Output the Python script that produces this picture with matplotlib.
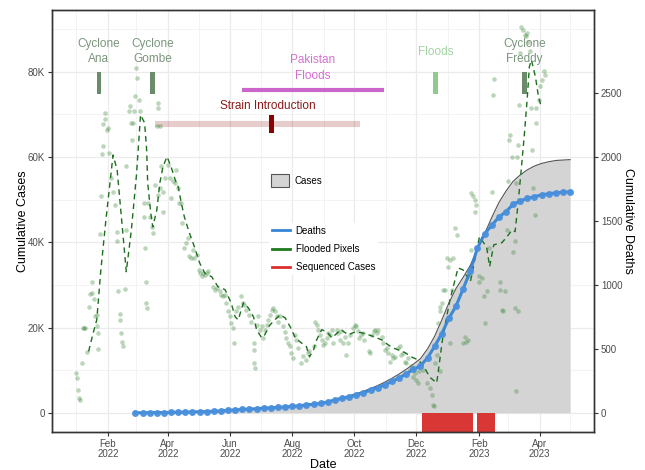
import pandas as pd
import matplotlib.pyplot as plt
import matplotlib.dates as mdates
from matplotlib.patches import Patch
from matplotlib.lines import Line2D
from matplotlib.ticker import MultipleLocator

plt.rcParams['font.family'] = ['Liberation Sans', 'DejaVu Sans']

# Weekly cumulative cases / deaths (first week 2022-02-28)
week_start = '2022-02-28'
deaths = [0, 0, 1, 2, 2, 3, 4, 5, 7, 8, 10, 12, 15, 19, 23, 26, 29, 32, 36, 39,
          42, 46, 50, 55, 61, 67, 73, 84, 100, 112, 125, 140, 158, 178, 196, 220,
          245, 272, 305, 340, 367, 430, 520, 620, 740, 835, 970, 1110, 1290, 1400,
          1465, 1530, 1573, 1630, 1658, 1676, 1690, 1704, 1713, 1720, 1725, 1728]
cases = [0, 0, 30, 60, 70, 100, 130, 160, 220, 260, 320, 380, 480, 600, 720, 820,
         920, 1020, 1140, 1240, 1340, 1470, 1600, 1760, 1950, 2150, 2350, 2700,
         3200, 3600, 4000, 4500, 5050, 5700, 6400, 7200, 8100, 9100, 10200, 11400,
         12700, 15000, 18000, 21800, 25800, 29200, 31800, 34600, 38300, 42000,
         45800, 49300, 52000, 54300, 55800, 57000, 57900, 58500, 58900, 59200,
         59300, 59400]

# Flooded pixels (day of 2022, thousands of pixels)
flood_day = [0, 1, 2, 3, 4, 5, 6, 7, 8, 10, 12, 13, 15, 15, 17, 18, 20, 20, 21, 21,
             23, 24, 25, 26, 26, 28, 28, 30, 31, 32, 34, 36, 38, 40, 40, 41, 43, 43,
             44, 45, 46, 48, 49, 49, 52, 53, 54, 55, 56, 57, 58, 59, 60, 61, 62, 66,
             66, 67, 68, 68, 69,
             70, 72, 74, 75, 77, 79, 80, 80, 80, 82, 82, 83, 85, 85, 87, 90, 92, 93,
             95, 97, 98, 100, 101, 103, 104, 106, 108, 110, 111, 113, 115, 116, 118,
             120, 121, 123, 124, 126, 128, 129, 134, 136, 138, 141, 142, 144, 146,
             147, 149, 151, 152, 154, 155, 157, 159,
             162, 164, 165, 167, 170, 172, 174, 174, 175, 174, 177, 178, 180, 182,
             183, 185, 187, 188, 190, 192, 193, 195, 197, 198, 200, 203, 205, 206,
             208, 210, 211, 213, 215, 216, 218, 221, 223, 226, 228, 229, 233, 234,
             236, 237, 239, 241, 242, 244, 246, 247, 249, 251, 252,
             256, 257, 259, 260, 262, 264, 265, 267, 269, 272, 274, 275, 277, 278,
             280, 282, 283, 287, 288, 290, 292, 293, 295, 296, 300, 301, 303, 305,
             306, 308, 310, 311, 313, 316, 318, 319, 321, 323, 324, 326,
             328, 329, 331, 333, 334, 336, 337, 341, 344, 347, 349, 350, 351, 352,
             354, 355, 357, 357, 359, 362, 364, 365, 367, 369, 370, 372, 374, 382,
             383, 385, 387, 388, 388, 390, 392, 393, 392, 396, 398, 396, 400, 401,
             403, 405, 408, 416, 416, 418, 419, 421, 424, 423, 429, 431, 432, 433,
             449, 451,
             409, 410, 425, 426, 428, 434, 435, 431, 432, 436, 437, 439, 441, 442,
             443, 444, 446, 447, 448, 452, 452, 454, 455, 457, 459, 460,
             360, 367, 357, 434, 380]
flood_k = [9.3, 8.1, 5.4, 3.4, 2.9, 11.8, 19.9, 19.9, 19.9, 14.2, 24.9, 27.9, 28.2,
           30.8, 26.7, 22.8, 23.0, 20.3, 18.7, 14.9, 42.0, 50.8, 60.8, 62.5, 67.8,
           68.9, 70.3, 66.4, 66.8, 60.9, 55.1, 51.9, 48.8, 42.5, 40.2, 28.6, 23.2,
           21.8, 18.7, 16.5, 15.6, 29.0, 57.8, 42.9, 70.7, 72.0, 68.0, 64.0, 68.0,
           70.9, 74.4, 80.9, 78.5, 73.4, 70.9, 49.3, 45.9, 38.6, 30.8, 25.7, 24.7,
           49.2, 45.9, 43.7, 42.2, 53.5, 67.2, 72.6, 71.5, 51.1, 67.2, 52.7, 57.8,
           51.9, 47.2, 55.1, 58.2, 55.1, 50.4, 54.3, 53.9, 57.0, 52.7, 49.2, 49.2,
           44.5, 38.6, 39.8, 41.0, 36.7, 36.3, 38.2, 36.3, 37.1, 33.5, 32.8, 32.0,
           32.8, 32.4, 32.8, 33.2, 29.6, 28.9, 29.2, 28.5, 27.7, 27.3, 27.7, 25.7,
           23.8, 22.6, 21.0, 19.9, 16.3, 23.8, 24.9,
           27.3, 25.7, 25.3, 24.2, 23.0, 21.4, 16.3, 14.8, 10.5, 11.7, 20.6, 22.6,
           19.5, 20.3, 17.5, 19.5, 20.6, 21.8, 23.0, 24.2, 24.6, 23.8, 22.6, 21.4,
           22.6, 20.3, 19.0, 17.5, 16.3, 15.6, 14.0, 12.8, 18.3, 17.1, 15.2, 11.7,
           13.3, 12.4, 14.0, 14.4, 15.6, 21.4, 20.6, 19.5, 18.3, 17.1, 16.0, 16.3,
           17.5, 18.7, 18.3, 19.5, 16.3,
           19.5, 18.7, 17.1, 19.1, 16.3, 17.9, 13.6, 16.3, 18.3, 19.9, 20.6, 20.3,
           19.1, 17.5, 18.3, 18.7, 17.1, 14.4, 14.0, 18.3, 19.1, 19.5, 18.7, 19.5,
           17.9, 16.3, 14.8, 15.2, 14.0, 12.0, 13.6, 12.8, 13.2, 15.2, 15.6, 13.6,
           14.0, 12.0, 11.7, 12.8,
           10.1, 10.9, 8.5, 9.3, 7.7, 7.0, 9.7, 10.1, 7.0, 5.8, 4.2, 1.9, 1.5, 11.7,
           13.6, 21.0, 24.9, 23.8, 25.7, 28.9, 36.3, 34.3, 35.9, 28.9, 36.3, 43.3,
           41.8, 17.9, 16.7, 17.1, 32.4, 38.2, 51.5, 50.8, 50.0, 48.8, 47.2, 32.0,
           31.6, 30.8, 27.3, 21.0, 28.5, 38.6, 51.9, 30.8, 28.9, 24.2, 23.8, 28.5,
           54.3, 42.9, 37.8, 24.6, 5.0, 60.1, 52.7, 46.5,
           74.6, 78.3, 64.0, 65.2, 60.1, 62.9, 72.3, 40.2, 53.9, 84.4, 90.5, 89.7,
           88.7, 88.3, 89.1, 87.1, 84.8, 71.5, 61.7, 71.5, 68.0, 73.4, 76.6, 78.1,
           80.1, 79.3,
           28.9, 16.4, 9.7, 23.8, 16.4]

# Smoothed flooded pixels (dashed line)
smooth_day = [12, 16, 20, 24, 29, 36, 40, 44, 49, 54, 59, 63, 67, 69, 70, 73, 75, 79,
              82, 85, 89, 93, 97, 100, 103, 106, 111, 116, 121, 126, 133, 139, 146,
              152, 156, 159, 164, 169, 174, 177, 182, 185, 190, 195, 200, 205, 210,
              215, 221, 226, 229, 233, 236, 241, 246, 251, 260, 267, 274, 280, 287,
              293, 300, 306, 311, 316, 323, 329, 336, 342, 347, 354, 360, 367, 375,
              380, 387, 390, 396, 403, 406, 410, 418, 423, 428, 431, 434, 437, 440,
              443, 445, 447, 451, 454, 457]
smooth_k = [14.4, 18.3, 21.8, 33.5, 45.3, 60.5, 57.0, 46.4, 33.1, 42.9, 55.8, 69.9,
            68.0, 61.7, 54.0, 46.9, 43.6, 47.6, 54.0, 57.7, 60.1, 57.7, 54.7, 53.0,
            49.3, 46.0, 42.2, 38.9, 35.2, 32.8, 31.9, 29.6, 28.9, 25.8, 22.5, 21.8,
            25.8, 24.6, 22.5, 19.5, 17.6, 18.3, 20.6, 21.8, 23.0, 22.3, 20.2, 17.6,
            16.4, 15.5, 13.1, 14.8, 17.1, 19.5, 19.0, 17.6, 19.5, 18.3, 19.0, 18.8,
            18.3, 17.8, 17.1, 16.0, 15.2, 14.8, 14.1, 13.1, 12.4, 10.6, 8.4, 7.0,
            17.8, 26.5, 34.0, 33.5, 30.7, 34.3, 41.3, 38.9, 34.3, 39.4, 39.9, 41.3,
            42.9, 42.5, 49.3, 57.0, 65.0, 74.0, 81.2, 82.8, 78.8, 74.1, 71.6]

# Sequenced cases periods
seq_start = ['2022-12-07', '2023-01-30']
seq_end = ['2023-01-26', '2023-02-16']

# Events
cyclone_names = ['Cyclone\nAna', 'Cyclone\nGombe', 'Cyclone\nFreddy']
cyclone_dates = ['2022-01-23', '2022-03-17', '2023-03-17']
flood_event_date = '2022-12-20'
pakistan_start, pakistan_end = '2022-06-13', '2022-10-30'
strain_start, strain_end = '2022-03-19', '2022-10-07'
strain_intro = '2022-07-12'

xtick_dates = ['2022-02-01', '2022-04-01', '2022-06-01', '2022-08-01',
               '2022-10-01', '2022-12-01', '2023-02-01', '2023-04-01']
xtick_labels = ['Feb\n2022', 'Apr\n2022', 'Jun\n2022', 'Aug\n2022',
                'Oct\n2022', 'Dec\n2022', 'Feb\n2023', 'Apr\n2023']

# Prepare
weeks = pd.date_range(week_start, periods=len(deaths), freq='7D')
jan1 = pd.Timestamp('2022-01-01')
flood_dates = jan1 + pd.to_timedelta(flood_day, unit='D')
flood_vals = [v * 1000 for v in flood_k]
smooth_dates = jan1 + pd.to_timedelta(smooth_day, unit='D')
smooth_vals = [v * 1000 for v in smooth_k]
ratio = 30

fig = plt.figure(figsize=(6.45, 4.7), dpi=100)
ax = fig.add_axes([0.0806, 0.0809, 0.8403, 0.8978])
ax2 = ax.twinx()

ymin, ymax = -4500, 94500
ax.set_ylim(ymin, ymax)
ax2.set_ylim(ymin / ratio, ymax / ratio)
ax.set_xlim(pd.Timestamp('2021-12-08'), pd.Timestamp('2023-05-24 12:00'))

# grid
ax.set_axisbelow(True)
ax.xaxis.set_minor_locator(mdates.MonthLocator())
ax.yaxis.set_minor_locator(MultipleLocator(10000))
ax.grid(which='major', color='#ebebeb', lw=0.9)
ax.grid(which='minor', color='#f1f1f1', lw=0.6)

# cases
ax.fill_between(weeks, 0, cases, color='#d4d4d4', lw=0, zorder=1)
ax.plot(weeks, cases, color='#555555', lw=0.8, zorder=1.5)

# sequenced cases
s0 = pd.to_datetime(seq_start)
s1 = pd.to_datetime(seq_end)
ax.bar(s0, -8000, bottom=0, width=(s1 - s0).days, align='edge',
       color='#d93636', lw=0, zorder=2)

# flooded pixels
ax.scatter(flood_dates, flood_vals, s=11, color='#3f8a3f', alpha=0.35,
           lw=0, zorder=2.5)
ax.plot(smooth_dates, smooth_vals, color='#1d6e1d', lw=1.0,
        linestyle=(0, (4, 3)), zorder=3)

# deaths
ax2.plot(weeks, deaths, color='#3585d5', lw=2.2, marker='o', ms=5,
         markerfacecolor='#4a90dc', markeredgewidth=0, alpha=0.95)

# event annotations
cyc_text = '#7a967c'
cyc_bar = '#6b8c6b'
for name, d in zip(cyclone_names, cyclone_dates):
    ax.text(pd.Timestamp(d), 84700, name, ha='center', va='center',
            fontsize=8.5, color=cyc_text, linespacing=1.35)
    ax.bar(pd.Timestamp(d), 5200, bottom=74800, width=4.5, color=cyc_bar, lw=0)

ax.text(pd.Timestamp(flood_event_date), 84700, 'Floods', ha='center', va='center',
        fontsize=8.5, color='#a3d3a3')
ax.bar(pd.Timestamp(flood_event_date), 5200, bottom=74800, width=4.5,
       color='#8fca8f', lw=0)

pk0, pk1 = pd.Timestamp(pakistan_start), pd.Timestamp(pakistan_end)
ax.plot([pk0, pk1], [75800, 75800], color='#cc66cc', lw=3.0, solid_capstyle='butt')
ax.text(pk0 + (pk1 - pk0) / 2, 80900, 'Pakistan\nFloods', ha='center', va='center',
        fontsize=8.5, color='#d66fd2', linespacing=1.35)

st0, st1 = pd.Timestamp(strain_start), pd.Timestamp(strain_end)
ax.plot([st0, st1], [67800, 67800], color='#8b0000', alpha=0.2, lw=4.4,
        solid_capstyle='butt')
ax.bar(pd.Timestamp(strain_intro), 4200, bottom=65700, width=5.2,
       color='#8b0000', lw=0)
ax.text(pd.Timestamp(strain_intro) - pd.Timedelta(days=4), 72000,
        'Strain Introduction', ha='center', va='center', fontsize=8.5,
        color='#8b1a1a')

# axes styling
ax.set_xticks(pd.to_datetime(xtick_dates))
ax.set_xticklabels(xtick_labels, linespacing=0.95)
ax.set_yticks([0, 20000, 40000, 60000, 80000])
ax.set_yticklabels(['0', '20K', '40K', '60K', '80K'])
ax2.set_yticks([0, 500, 1000, 1500, 2000, 2500])
for a in (ax, ax2):
    a.tick_params(which='major', labelsize=7, labelcolor='#4d4d4d',
                  color='#333333', length=3, width=0.8, pad=2)
    for sp in a.spines.values():
        sp.set_color('#333333')
        sp.set_linewidth(1.0)
ax.tick_params(which='minor', length=0)
ax2.tick_params(which='minor', length=0)

ax.set_xlabel('Date', fontsize=9, labelpad=0)
ax.set_ylabel('Cumulative Cases', fontsize=9, labelpad=-1)
ax2.set_ylabel('Cumulative Deaths', fontsize=9, rotation=270,
               ha='center', va='center')
ax2.yaxis.set_label_coords(1.062, 0.5)

# legends
fs_leg = 7
leg1 = ax2.legend([Patch(facecolor='#d4d4d4', edgecolor='#555555', lw=0.8)],
                  ['Cases'], loc='center left', bbox_to_anchor=(0.405, 0.596),
                  frameon=False, fontsize=fs_leg, handlelength=1.8, handleheight=1.75,
                  handletextpad=0.6, borderpad=0, borderaxespad=0)
ax2.add_artist(leg1)
line_handles = [Line2D([], [], color='#3585d5', lw=2.0),
                Line2D([], [], color='#1d7a1d', lw=2.0),
                Line2D([], [], color='#dd2e2e', lw=2.0)]
leg2 = ax2.legend(line_handles, ['Deaths', 'Flooded Pixels', 'Sequenced Cases'],
                  loc='center left', bbox_to_anchor=(0.401, 0.4336),
                  frameon=True, facecolor='white', edgecolor='none', framealpha=1,
                  fancybox=False, fontsize=fs_leg, handlelength=1.8,
                  handletextpad=0.6, labelspacing=0.85, borderpad=0.3,
                  borderaxespad=0)

fig.savefig('out.png', dpi=100)
